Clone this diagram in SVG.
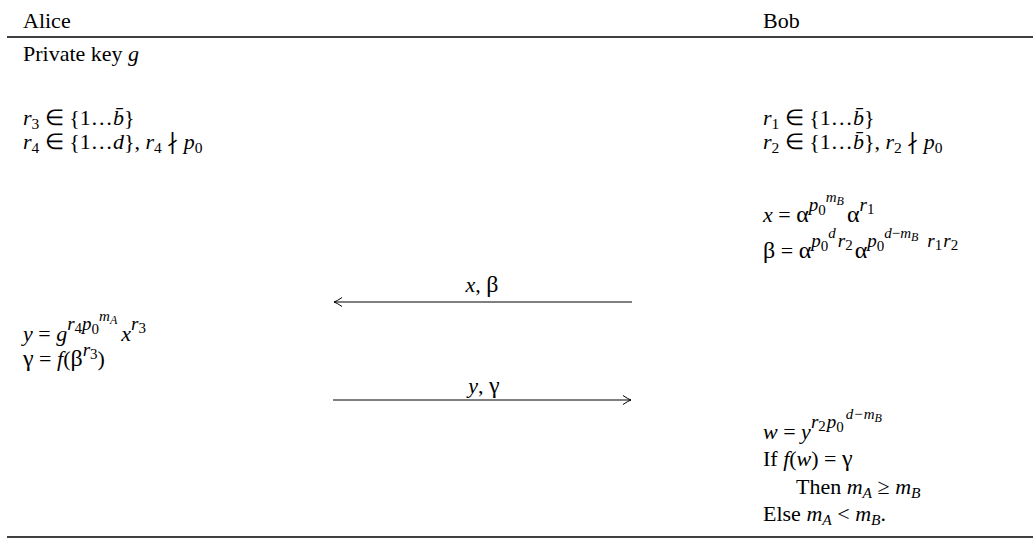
<svg xmlns="http://www.w3.org/2000/svg" width="1033" height="545" viewBox="0 0 1033 545">
<style>
text{font-family:"Liberation Serif","Times New Roman",serif;font-size:22px;fill:#000}
.i{font-style:italic}
.b{font-size:15.5px}
.s{font-size:19px}
.ss{font-size:15px}
.sss{font-size:12px}
.g{font-size:24px}
.rule{stroke:#000;stroke-width:1.3}
.arrow{stroke:#000;stroke-width:1;fill:none}
</style>
<defs>
<marker id="head" viewBox="-10 -6 12 12" markerWidth="12" markerHeight="12" refX="0" refY="0" orient="auto" markerUnits="userSpaceOnUse">
<path d="M-8,-4.5 Q-3,-1 0,0 Q-3,1 -8,4.5" fill="none" stroke="#000" stroke-width="1"/>
</marker>
</defs>
<line class="rule" x1="7" y1="37" x2="1033" y2="37"/>
<line class="rule" x1="7" y1="537" x2="1033" y2="537"/>
<g id="alice-header"><text x="23" y="28">Alice</text></g>
<g id="bob-header"><text x="763" y="28">Bob</text></g>
<g id="alice-key"><text x="23" y="61">Private key <tspan class="i">g</tspan></text></g>
<g id="alice-randoms">
<text x="23" y="125"><tspan class="i">r</tspan><tspan class="b" dy="4">3</tspan><tspan dy="-4"> ∈ {1…</tspan><tspan class="i">b̄</tspan><tspan>}</tspan></text>
<text x="23" y="149"><tspan class="i">r</tspan><tspan class="b" dy="4">4</tspan><tspan dy="-4"> ∈ {1…</tspan><tspan class="i">d</tspan><tspan>}, </tspan><tspan class="i">r</tspan><tspan class="b" dy="4">4</tspan><tspan dy="-4"> ∤ </tspan><tspan class="i">p</tspan><tspan class="b" dy="4">0</tspan></text>
</g>
<g id="bob-randoms">
<text x="763" y="125"><tspan class="i">r</tspan><tspan class="b" dy="4">1</tspan><tspan dy="-4"> ∈ {1…</tspan><tspan class="i">b̄</tspan><tspan>}</tspan></text>
<text x="763" y="149"><tspan class="i">r</tspan><tspan class="b" dy="4">2</tspan><tspan dy="-4"> ∈ {1…</tspan><tspan class="i">b̄</tspan><tspan>}, </tspan><tspan class="i">r</tspan><tspan class="b" dy="4">2</tspan><tspan dy="-4"> ∤ </tspan><tspan class="i">p</tspan><tspan class="b" dy="4">0</tspan></text>
</g>
<g id="bob-commit">
<text x="763" y="222"><tspan class="i">x</tspan><tspan> = </tspan><tspan class="g">α</tspan><tspan class="s i" dy="-11">p</tspan><tspan class="ss" dy="4">0</tspan><tspan class="ss i" dy="-13">m</tspan><tspan class="sss i" dy="3">B</tspan><tspan class="g" dx="3" dy="17">α</tspan><tspan class="s i" dy="-11">r</tspan><tspan class="ss" dy="3">1</tspan></text>
<text x="763" y="258"><tspan class="g">β</tspan><tspan> = </tspan><tspan class="g">α</tspan><tspan class="s i" dy="-11">p</tspan><tspan class="ss" dy="4">0</tspan><tspan class="ss i" dy="-13">d</tspan><tspan class="s i" dx="2" dy="9">r</tspan><tspan class="ss" dy="3">2</tspan><tspan class="g" dx="2" dy="8">α</tspan><tspan class="s i" dy="-11">p</tspan><tspan class="ss" dy="4">0</tspan><tspan class="ss i" dy="-13">d</tspan><tspan class="ss">−</tspan><tspan class="ss i">m</tspan><tspan class="sss i" dy="3">B</tspan><tspan class="s i" dx="9" dy="6">r</tspan><tspan class="ss" dy="3">1</tspan><tspan class="s i" dx="1" dy="-3">r</tspan><tspan class="ss" dy="3">2</tspan></text>
</g>
<g id="alice-response">
<text x="23" y="341"><tspan class="i">y</tspan><tspan> = </tspan><tspan class="i">g</tspan><tspan class="s i" dy="-11">r</tspan><tspan class="ss" dy="3">4</tspan><tspan class="s i" dy="-3">p</tspan><tspan class="ss" dy="4">0</tspan><tspan class="ss i" dy="-13">m</tspan><tspan class="sss i" dy="3">A</tspan><tspan class="i" dx="4" dy="17">x</tspan><tspan class="s i" dy="-11">r</tspan><tspan class="ss" dy="3">3</tspan></text>
<text x="23" y="366"><tspan class="g">γ</tspan><tspan> = </tspan><tspan class="i">f</tspan><tspan>(</tspan><tspan class="g">β</tspan><tspan class="s i" dy="-10">r</tspan><tspan class="ss" dy="3">3</tspan><tspan dy="7">)</tspan></text>
</g>
<g id="bob-verify">
<text x="763" y="439"><tspan class="i">w</tspan><tspan> = </tspan><tspan class="i">y</tspan><tspan class="s i" dy="-11">r</tspan><tspan class="ss" dy="3">2</tspan><tspan class="s i" dx="1" dy="-3">p</tspan><tspan class="ss" dy="4">0</tspan><tspan class="ss i" dx="2" dy="-13">d</tspan><tspan class="ss" dx="1">−</tspan><tspan class="ss i" dx="1">m</tspan><tspan class="sss i" dy="3">B</tspan></text>
<text x="763" y="466"><tspan>If </tspan><tspan class="i">f</tspan><tspan>(</tspan><tspan class="i">w</tspan><tspan>) = </tspan><tspan class="g">γ</tspan></text>
<text x="796" y="494"><tspan>Then </tspan><tspan class="i">m</tspan><tspan class="b i" dy="4">A</tspan><tspan dy="-4"> ≥ </tspan><tspan class="i">m</tspan><tspan class="b i" dy="4">B</tspan></text>
<text x="763" y="521"><tspan>Else </tspan><tspan class="i">m</tspan><tspan class="b i" dy="4">A</tspan><tspan dy="-4"> &lt; </tspan><tspan class="i">m</tspan><tspan class="b i" dy="4">B</tspan><tspan dy="-4">.</tspan></text>
</g>
<g id="connectors">
<line class="arrow" x1="632" y1="302" x2="334" y2="302" marker-end="url(#head)"/>
<text x="482" y="292" text-anchor="middle"><tspan class="i">x</tspan><tspan>, </tspan><tspan class="g">β</tspan></text>
<line class="arrow" x1="333" y1="400" x2="631" y2="400" marker-end="url(#head)"/>
<text x="484" y="393" text-anchor="middle"><tspan class="i">y</tspan><tspan>, </tspan><tspan class="g">γ</tspan></text>
</g>
</svg>
